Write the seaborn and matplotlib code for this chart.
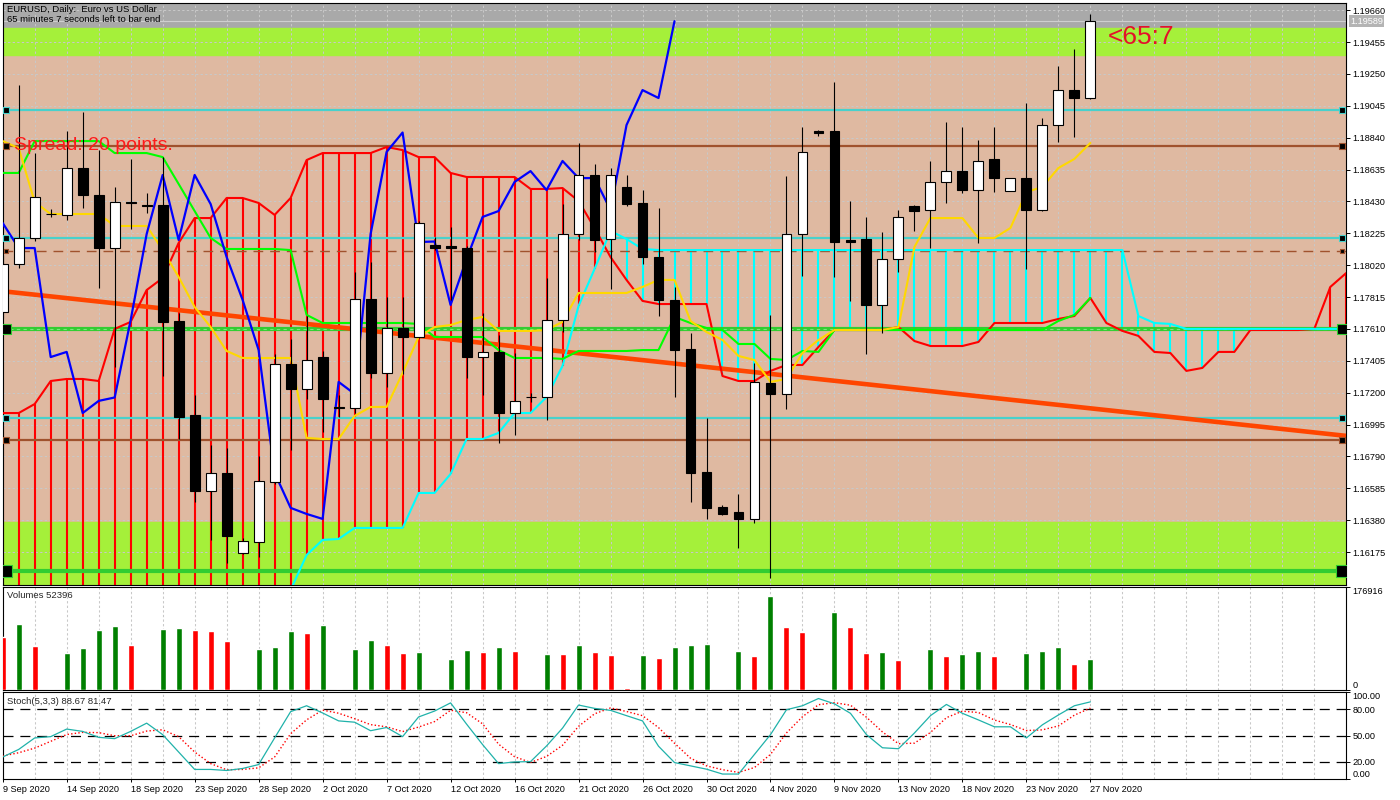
import matplotlib
matplotlib.use("Agg")
import matplotlib.pyplot as plt
from matplotlib import transforms
import numpy as np
import pandas as pd
import seaborn as sns

# ---- daily bars, 9 Sep .. 27 Nov 2020 (broker has Sunday bars, no Saturday)
opens = [1.17719, 1.18027, 1.18195, 1.18349, 1.18343, 1.18645, 1.18471, 1.18130, 1.18420, 1.18400,
         1.18407, 1.17661, 1.17057, 1.16568, 1.16684, 1.16169, 1.16240, 1.16626, 1.17384, 1.17224,
         1.17429, 1.17102, 1.17102, 1.17802, 1.17327, 1.17616, 1.17558, 1.18150, 1.18143, 1.18130,
         1.17429, 1.17462, 1.17069, 1.17172, 1.17172, 1.17667, 1.18220, 1.18600, 1.18188, 1.18523,
         1.18420, 1.18072, 1.17796, 1.17481, 1.16690, 1.16465, 1.16433, 1.16388, 1.17262, 1.17192,
         1.18220, 1.18880, 1.18883, 1.18179, 1.18188, 1.17764, 1.18060, 1.18400, 1.18375, 1.18555,
         1.18625, 1.18503, 1.18703, 1.18497, 1.18580, 1.18375, 1.18921, 1.19146, 1.19095]
highs = [1.18085, 1.19178, 1.18741, 1.18381, 1.18883, 1.19005, 1.18760, 1.18523, 1.18703, 1.18484,
         1.18715, 1.17712, 1.17185, 1.16864, 1.16844, 1.16266, 1.16793, 1.17449, 1.17545, 1.17693,
         1.17468, 1.17185, 1.17976, 1.18040, 1.17815, 1.17815, 1.18304, 1.18201, 1.18265, 1.18143,
         1.17712, 1.17571, 1.17455, 1.17198, 1.17937, 1.18413, 1.18806, 1.18670, 1.18645, 1.18600,
         1.18503, 1.18388, 1.17880, 1.17584, 1.17037, 1.16478, 1.16549, 1.17391, 1.17700, 1.18593,
         1.18908, 1.18889, 1.19198, 1.18433, 1.18330, 1.18233, 1.18375, 1.18407, 1.18690, 1.18941,
         1.18908, 1.18825, 1.18908, 1.18580, 1.19063, 1.18966, 1.19301, 1.19410, 1.19635]
lows = [1.17680, 1.18002, 1.18175, 1.18330, 1.18310, 1.18388, 1.17873, 1.17365, 1.18253, 1.18355,
        1.17307, 1.16902, 1.16497, 1.16253, 1.16105, 1.16163, 1.16143, 1.16613, 1.16831, 1.17159,
        1.16947, 1.17044, 1.17069, 1.17294, 1.17237, 1.17320, 1.17552, 1.18117, 1.17796, 1.17294,
        1.17185, 1.16877, 1.16928, 1.17140, 1.17024, 1.17590, 1.18182, 1.18105, 1.17867, 1.18400,
        1.18027, 1.17693, 1.17172, 1.16497, 1.16388, 1.16414, 1.16201, 1.16362, 1.16008, 1.17095,
        1.17950, 1.18851, 1.17944, 1.17790, 1.17449, 1.17584, 1.17976, 1.18240, 1.18130, 1.18420,
        1.18484, 1.18163, 1.18490, 1.18497, 1.17995, 1.18368, 1.18812, 1.18844, 1.19088]
closes = [1.18027, 1.18195, 1.18458, 1.18346, 1.18645, 1.18471, 1.18130, 1.18426, 1.18417, 1.18398,
          1.17655, 1.17044, 1.16568, 1.16684, 1.16279, 1.16246, 1.16632, 1.17384, 1.17224, 1.17410,
          1.17159, 1.17099, 1.17802, 1.17327, 1.17616, 1.17558, 1.18291, 1.18130, 1.18130, 1.17429,
          1.17462, 1.17069, 1.17147, 1.17169, 1.17667, 1.18220, 1.18600, 1.18182, 1.18600, 1.18413,
          1.18072, 1.17796, 1.17474, 1.16684, 1.16459, 1.16420, 1.16388, 1.17269, 1.17192, 1.18220,
          1.18748, 1.18873, 1.18169, 1.18172, 1.17764, 1.18060, 1.18330, 1.18368, 1.18555, 1.18625,
          1.18503, 1.18690, 1.18580, 1.18580, 1.18375, 1.18921, 1.19146, 1.19095, 1.19589]
volumes = [91550, 113360, 75570, 700, 63550, 72650, 103060, 109930, 77290, 700,
           104770, 106490, 103060, 101340, 84160, 700, 70420, 73860, 101340, 97900,
           111640, 700, 70420, 85880, 77290, 63550, 65270, 700, 53250, 68700,
           65270, 73860, 66990, 700, 62000, 61500, 77290, 65270, 60120, 2900,
           60120, 54960, 73860, 77290, 79010, 700, 66990, 58400, 161450, 108210,
           99620, 700, 133970, 108210, 63550, 65270, 51530, 700, 70420, 58400,
           61830, 66990, 58400, 700, 63550, 66990, 73860, 44660, 52396]

# Ichimoku lines
tenkan = [1.18818, 1.18773, 1.18426, 1.18349, 1.18349, 1.18349, 1.18349, 1.18272, 1.18272, 1.18272,
          1.18117, 1.17944, 1.17751, 1.17622, 1.17468, 1.17423, 1.17423, 1.17423, 1.17423, 1.16909,
          1.16902, 1.16902, 1.17050, 1.17108, 1.17108, 1.17327, 1.17558, 1.17622, 1.17635, 1.17667,
          1.17687, 1.17597, 1.17597, 1.17597, 1.17603, 1.17655, 1.17841, 1.17841, 1.17841, 1.17841,
          1.17880, 1.17925, 1.17925, 1.17661, 1.17590, 1.17539, 1.17436, 1.17410, 1.17269, 1.17288,
          1.17455, 1.17539, 1.17603, 1.17603, 1.17603, 1.17603, 1.17622, 1.18137, 1.18323, 1.18323,
          1.18323, 1.18195, 1.18195, 1.18259, 1.18490, 1.18523, 1.18645, 1.18703, 1.18806]
kijun = [1.18613, 1.18613, 1.18818, 1.18818, 1.18818, 1.18818, 1.18818, 1.18741, 1.18741, 1.18741,
         1.18715, 1.18542, 1.18368, 1.18195, 1.18124, 1.18124, 1.18124, 1.18124, 1.18117, 1.17700,
         1.17648, 1.17648, 1.17648, 1.17648, 1.17648, 1.17648, 1.17642, 1.17558, 1.17558, 1.17558,
         1.17558, 1.17474, 1.17423, 1.17423, 1.17423, 1.17417, 1.17468, 1.17468, 1.17468, 1.17468,
         1.17474, 1.17474, 1.17687, 1.17648, 1.17616, 1.17603, 1.17513, 1.17513, 1.17417, 1.17410,
         1.17468, 1.17462] + [1.17603] * 14 + [1.17661, 1.17700, 1.17809]
span_red = [1.17069, 1.17069, 1.17127, 1.17275, 1.17288, 1.17288, 1.17275, 1.17610, 1.17655, 1.17860,
            1.17937, 1.18163, 1.18323, 1.18323, 1.18452, 1.18452, 1.18420, 1.18343, 1.18452, 1.18696,
            1.18741, 1.18741, 1.18741, 1.18741, 1.18780, 1.18760, 1.18715, 1.18715, 1.18613, 1.18587,
            1.18587, 1.18587, 1.18587, 1.18510, 1.18510, 1.18516, 1.18433, 1.18259, 1.18072, 1.17925,
            1.17790, 1.17770, 1.17770, 1.17770, 1.17770, 1.17307, 1.17275, 1.17275, 1.17340, 1.17378,
            1.17378, 1.17494, 1.17603, 1.17603, 1.17603, 1.17603, 1.17622, 1.17532, 1.17500, 1.17500,
            1.17500, 1.17526, 1.17648, 1.17648, 1.17648, 1.17648, 1.17674, 1.17693, 1.17809, 1.17648,
            1.17597, 1.17565, 1.17462, 1.17455, 1.17340, 1.17359, 1.17462, 1.17462, 1.17603, 1.17603,
            1.17603, 1.17603, 1.17610, 1.17880, 1.17970]
span_cyan = ([1.15771] * 16 +
             [1.15835, 1.15880, 1.15931, 1.16156, 1.16253, 1.16259, 1.16330, 1.16330, 1.16330, 1.16330,
              1.16555, 1.16555, 1.16677, 1.16902, 1.16902, 1.16941, 1.17069, 1.17069, 1.17172, 1.17372,
              1.17757, 1.17995, 1.18240, 1.18188, 1.18124] +
             [1.18117] * 30 +
             [1.17693, 1.17648, 1.17642] +
             [1.17610] * 11)

stoch_main = [25.3, 34, 47.2, 48.7, 57.4, 54.7, 47.9, 46.4, 54.7, 64.2,
              51, 31, 11, 11, 9.8, 12.1, 16.6, 47.2, 77.4, 84.2,
              75.9, 66.8, 65.3, 55.5, 59.2, 48.7, 71.3, 78.1, 87.5, 63.1,
              39.6, 17.7, 19.6, 20, 38, 58.5, 85, 81.2, 78.9, 72.8,
              66.8, 37.7, 18.9, 15.1, 11.3, 5.7, 5.7, 28.3, 51, 79.6,
              84.2, 92.5, 86.4, 75.5, 51, 35.9, 34.8, 52.9, 72.8, 85.7,
              75.5, 67.9, 60, 60, 47.2, 62.3, 73.6, 84.2, 88.67]
stoch_signal = [26.4, 30.2, 35.5, 43.3, 51.1, 53.6, 53.3, 49.7, 49.7, 55.1,
                56.6, 48.7, 31, 17.7, 10.6, 11, 12.8, 25.3, 52, 68,
                79.2, 75.6, 69.3, 62.5, 60, 54.5, 59.7, 66, 79, 76.2,
                63.4, 40.1, 25.6, 19.1, 25.9, 38.8, 60.5, 74.9, 81.7, 77.6,
                72.8, 59.1, 41.1, 23.9, 15.1, 10.7, 7.6, 13.2, 28.3, 53,
                71.6, 85.4, 87.7, 84.8, 71, 54.1, 40.6, 41.2, 53.5, 70.5,
                78, 76.4, 67.8, 62.6, 55.7, 56.5, 61, 73.4, 81.47]

# chart objects
levels_cyan = [1.19018, 1.18197, 1.17035]
levels_brown = [1.18788, 1.16896]
level_brown_dashed = 1.18109
levels_green = [1.17610, 1.16054]
trend_x = [-0.15, 84.0]
trend_y = [1.17854, 1.16922]
bid = 1.19589
price_ticks = [1.16175, 1.16380, 1.16585, 1.16790, 1.16995, 1.17200, 1.17405, 1.17610, 1.17815,
               1.18020, 1.18225, 1.18430, 1.18635, 1.18840, 1.19045, 1.19250, 1.19455, 1.19660]

dates = [d for d in pd.date_range("2020-09-09", "2020-11-27") if d.dayofweek != 5]
date_labels = [f"{d.day} {d:%b %Y}" for d in dates[::4]]

# ---- style
sns.set_theme(style="white")
plt.rcParams["font.family"] = ["Liberation Sans", "DejaVu Sans"]

TAN = "#DFB9A1"
LIME = "#A5F03A"
GRID = "#C8C8C8"
idx = np.arange(len(closes))
span_idx = np.arange(len(span_red))

fig = plt.figure(figsize=(14, 8), dpi=100)
L, W = 2.7 / 1400, 1343.3 / 1400
ax = fig.add_axes([L, 1 - 585 / 800, W, 582 / 800])
axv = fig.add_axes([L, 1 - 690 / 800, W, 103 / 800], sharex=ax)
axs = fig.add_axes([L, 1 - 779 / 800, W, 87 / 800], sharex=ax)

for a in (ax, axv, axs):
    for i in range(0, 84, 2):
        a.axvline(i, color=GRID, lw=0.75, ls=(0, (2.2, 2.2)), zorder=1)
    for s in a.spines.values():
        s.set_color("black")
        s.set_linewidth(0.8)
    a.yaxis.tick_right()
    a.tick_params(axis="y", right=True, left=False, direction="out", length=3,
                  width=0.7, pad=1.5, labelsize=6.6, colors="black")

# ---- main price panel
ax.set_facecolor(TAN)
ax.axhspan(1.19545, 1.2, color="#A9A9A9", zorder=0.5)
ax.axhspan(1.19371, 1.19545, color=LIME, zorder=0.5)
ax.axhspan(1.15, 1.16369, color=LIME, zorder=0.5)
for p in price_ticks:
    ax.axhline(p, color=GRID, lw=0.75, ls=(0, (2.2, 2.2)), zorder=1)
ax.axhline(bid, color="#CFCFCF", lw=0.8, zorder=1.2)

# kumo hatch
red_a = np.array(span_red)
cyan_a = np.array(span_cyan)
hatch_col = np.where(red_a >= cyan_a, "#FF0000", "#00FFFF")
ax.vlines(span_idx, np.minimum(red_a, cyan_a), np.maximum(red_a, cyan_a),
          colors=hatch_col, lw=1.5, zorder=2)

# horizontal objects
for p in levels_cyan:
    ax.axhline(p, color="#48D1CC", lw=1.6, zorder=2.5)
for p in levels_brown:
    ax.axhline(p, color="#A0522D", lw=1.6, zorder=2.5)
ax.axhline(level_brown_dashed, color="#A0522D", lw=1.0, ls=(0, (7, 5)), zorder=2.5)
ax.axhline(levels_green[0], color="#32CD32", lw=3.0, zorder=2.5)
ax.axhline(levels_green[0], color="#7CE87C", lw=0.8, ls=(0, (3, 3)), zorder=2.55)
ax.axhline(levels_green[1], color="#32CD32", lw=3.0, zorder=2.5)
for xm in (0.23, 83.7):
    ax.scatter([xm] * 3, levels_cyan, marker="s", s=14, color="black",
               edgecolors="#48D1CC", linewidths=0.8, zorder=6)
    ax.scatter([xm] * 2, levels_brown, marker="s", s=14, color="black",
               edgecolors="#A0522D", linewidths=0.8, zorder=6)
    ax.scatter([xm], [level_brown_dashed], marker="s", s=7, color="black",
               edgecolors="#A0522D", linewidths=0.8, zorder=6)
    ax.scatter([xm], [levels_green[0]], marker="s", s=45, color="black",
               edgecolors="#32CD32", linewidths=0.8, zorder=6)
    ax.scatter([xm], [levels_green[1]], marker="s", s=75, color="black",
               edgecolors="#32CD32", linewidths=0.8, zorder=6)

ax.plot(trend_x, trend_y, color="#FF4500", lw=3.3, solid_capstyle="butt", zorder=2.7)

sns.lineplot(x=span_idx, y=span_red, ax=ax, color="#FF0000", lw=1.5,
             estimator=None, sort=False, zorder=3)
sns.lineplot(x=span_idx, y=span_cyan, ax=ax, color="#00FFFF", lw=1.5,
             estimator=None, sort=False, zorder=3)
sns.lineplot(x=idx, y=kijun, ax=ax, color="#00FF00", lw=1.5,
             estimator=None, sort=False, zorder=3.1)
sns.lineplot(x=idx, y=tenkan, ax=ax, color="#FFD800", lw=1.5,
             estimator=None, sort=False, zorder=3.2)
sns.lineplot(x=idx - 26, y=closes, ax=ax, color="#0000FF", lw=1.6,
             estimator=None, sort=False, zorder=3.3)

# candles
o = np.array(opens)
c = np.array(closes)
body_lo = np.minimum(o, c)
body_h = np.maximum(np.abs(c - o), 0.00006)
face = np.where(c >= o, "white", "black")
ax.vlines(idx, lows, highs, color="black", lw=0.8, zorder=4)
ax.bar(idx, body_h, bottom=body_lo, width=0.62, color=face, edgecolor="black",
       linewidth=0.8, zorder=5)

ax.set_ylim(1.15963, 1.19706)
ax.set_yticks(price_ticks, [f"{p:.5f}" for p in price_ticks])
ax.tick_params(axis="x", bottom=False, labelbottom=False)
ax.text(1.003, bid, f"{bid:.5f}", transform=transforms.blended_transform_factory(ax.transAxes, ax.transData),
        ha="left", va="center", fontsize=6.6, color="white",
        bbox=dict(boxstyle="square,pad=0.15", facecolor="#B4B4B4", edgecolor="none"), zorder=7)

fig.text(7 / 1400, 1 - 9 / 800, "EURUSD, Daily:  Euro vs US Dollar", fontsize=6.8,
         ha="left", va="center", color="black")
fig.text(7 / 1400, 1 - 20 / 800, "65 minutes 7 seconds left to bar end", fontsize=6.8,
         ha="left", va="center", color="black")
fig.text(14 / 1400, 1 - 145 / 800, "Spread: 20 points.", fontsize=14, color="#FF1A1A",
         ha="left", va="center", zorder=8)
fig.text(1108 / 1400, 1 - 37 / 800, "<65:7", fontsize=19, color="#E3122A",
         ha="left", va="center")

# ---- volumes
vol = np.array(volumes)
up = np.r_[False, vol[1:] > vol[:-1]]
axv.set_facecolor("white")
axv.bar(idx, vol, width=0.375, color=np.where(up, "#008000", "#FF0000"), zorder=3)
axv.set_ylim(0, 176916)
axv.set_yticks([0, 176916], ["0", "176916"])
vl = axv.get_yticklabels()
vl[0].set_va("bottom")
vl[1].set_va("top")
axv.tick_params(axis="x", bottom=False, labelbottom=False)
fig.text(7 / 1400, 1 - 596 / 800, f"Volumes {volumes[-1]}", fontsize=6.8, ha="left", va="center")

# ---- stochastic
axs.set_facecolor("white")
for lv in (80, 50, 20):
    axs.axhline(lv, color="black", lw=0.9, ls=(0, (8, 5.5)), zorder=2)
sns.lineplot(x=idx, y=stoch_signal, ax=axs, color="#FF0000", lw=1.0, linestyle=(0, (1, 1.6)),
             estimator=None, sort=False, zorder=3)
sns.lineplot(x=idx, y=stoch_main, ax=axs, color="#20B2AA", lw=0.9,
             estimator=None, sort=False, zorder=3.1)
axs.set_ylim(0, 100)
axs.set_yticks([0, 20, 50, 80, 100], ["0.00", "20.00", "50.00", "80.00", "100.00"])
sl = axs.get_yticklabels()
sl[0].set_va("bottom")
sl[-1].set_va("top")
fig.text(7 / 1400, 1 - 702 / 800, f"Stoch(5,3,3) {stoch_main[-1]:.2f} {stoch_signal[-1]:.2f}",
         fontsize=6.8, ha="left", va="center")

axs.set_xlim(0.025, 83.98)
axs.set_xticks(idx[::4], date_labels)
axs.tick_params(axis="x", bottom=True, direction="out", length=2.5, width=0.7, pad=1.5,
                labelsize=6.6, colors="black")
plt.setp(axs.get_xticklabels(), ha="left")
for a in (ax, axv, axs):
    a.set_xlabel("")
    a.set_ylabel("")

fig.savefig("out.png", dpi=100)
